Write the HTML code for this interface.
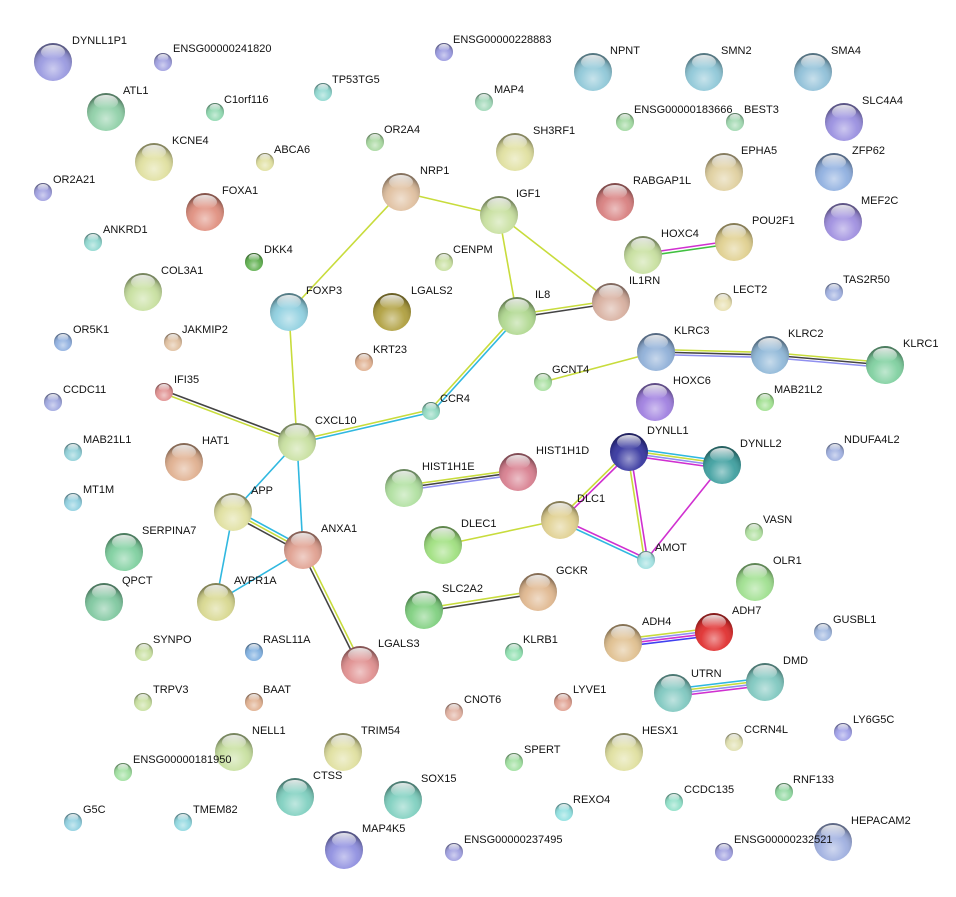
<!DOCTYPE html>
<html><head><meta charset="utf-8"><style>
html,body{margin:0;padding:0;background:#fff;}
svg{display:block;}
text{font-family:"Liberation Sans",Arial,sans-serif;font-size:11px;fill:#111;}
</style></head><body>
<svg width="956" height="897" viewBox="0 0 956 897" xmlns="http://www.w3.org/2000/svg">
<defs>
<radialGradient id="sh" cx="50%" cy="68%" r="62%">
<stop offset="0" stop-color="#fff" stop-opacity="0.5"/>
<stop offset="0.55" stop-color="#fff" stop-opacity="0.05"/>
<stop offset="0.85" stop-color="#000" stop-opacity="0.15"/>
<stop offset="1" stop-color="#000" stop-opacity="0.4"/>
</radialGradient>
<linearGradient id="hl" x1="0" y1="0" x2="0" y2="1">
<stop offset="0" stop-color="#fff" stop-opacity="0.85"/>
<stop offset="1" stop-color="#fff" stop-opacity="0"/>
</linearGradient>
<g id="B"><circle r="19" fill="url(#sh)"/><ellipse cx="0" cy="-10" rx="12" ry="7" fill="url(#hl)"/></g>
<g id="S"><circle r="9" fill="url(#sh)"/><ellipse cx="0" cy="-4.5" rx="5.5" ry="3.5" fill="url(#hl)"/></g>
</defs>
<g stroke-width="1.6" fill="none">
<line x1="401" y1="192" x2="499" y2="215" stroke="#c8dc3c"/>
<line x1="401" y1="192" x2="289" y2="312" stroke="#c8dc3c"/>
<line x1="499" y1="215" x2="517" y2="316" stroke="#c8dc3c"/>
<line x1="499" y1="215" x2="611" y2="302" stroke="#c8dc3c"/>
<line x1="517" y1="314.5" x2="611" y2="300.5" stroke="#c8dc3c"/>
<line x1="517" y1="317.5" x2="611" y2="303.5" stroke="#444"/>
<line x1="515.9" y1="315" x2="429.9" y2="410" stroke="#c8dc3c"/>
<line x1="518.1" y1="317" x2="432.1" y2="412" stroke="#30b8e0"/>
<line x1="431.3" y1="409.5" x2="297.3" y2="440.5" stroke="#c8dc3c"/>
<line x1="430.7" y1="412.5" x2="296.7" y2="443.5" stroke="#30b8e0"/>
<line x1="289" y1="312" x2="297" y2="442" stroke="#c8dc3c"/>
<line x1="164.5" y1="390.6" x2="297.5" y2="440.6" stroke="#444"/>
<line x1="163.5" y1="393.4" x2="296.5" y2="443.4" stroke="#c8dc3c"/>
<line x1="297" y1="442" x2="233" y2="512" stroke="#30b8e0"/>
<line x1="297" y1="442" x2="303" y2="550" stroke="#30b8e0"/>
<line x1="234.4" y1="509.4" x2="304.4" y2="547.4" stroke="#30b8e0"/>
<line x1="233" y1="512" x2="303" y2="550" stroke="#c8dc3c"/>
<line x1="231.6" y1="514.6" x2="301.6" y2="552.6" stroke="#444"/>
<line x1="233" y1="512" x2="216" y2="602" stroke="#30b8e0"/>
<line x1="216" y1="602" x2="303" y2="550" stroke="#30b8e0"/>
<line x1="301.6" y1="550.7" x2="358.6" y2="665.7" stroke="#444"/>
<line x1="304.4" y1="549.3" x2="361.4" y2="664.3" stroke="#c8dc3c"/>
<line x1="643" y1="253.5" x2="734" y2="240.5" stroke="#d030d0"/>
<line x1="643" y1="256.5" x2="734" y2="243.5" stroke="#40c040"/>
<line x1="543" y1="382" x2="656" y2="352" stroke="#c8dc3c"/>
<line x1="656" y1="349.5" x2="770" y2="352.5" stroke="#c8dc3c"/>
<line x1="656" y1="352" x2="770" y2="355" stroke="#444"/>
<line x1="656" y1="354.5" x2="770" y2="357.5" stroke="#9090f0"/>
<line x1="770" y1="352.5" x2="885" y2="362.5" stroke="#c8dc3c"/>
<line x1="770" y1="355" x2="885" y2="365" stroke="#444"/>
<line x1="770" y1="357.5" x2="885" y2="367.5" stroke="#9090f0"/>
<line x1="404" y1="485.5" x2="518" y2="469.5" stroke="#c8dc3c"/>
<line x1="404" y1="488" x2="518" y2="472" stroke="#444"/>
<line x1="404" y1="490.5" x2="518" y2="474.5" stroke="#9090f0"/>
<line x1="443" y1="545" x2="560" y2="520" stroke="#c8dc3c"/>
<line x1="558.9" y1="519" x2="627.9" y2="451" stroke="#c8dc3c"/>
<line x1="561.1" y1="521" x2="630.1" y2="453" stroke="#d030d0"/>
<line x1="560.6" y1="518.6" x2="646.6" y2="558.6" stroke="#d030d0"/>
<line x1="559.4" y1="521.4" x2="645.4" y2="561.4" stroke="#30b8e0"/>
<line x1="629" y1="448" x2="722" y2="461" stroke="#30b8e0"/>
<line x1="629" y1="450.5" x2="722" y2="463.5" stroke="#c8dc3c"/>
<line x1="629" y1="453" x2="722" y2="466" stroke="#9090f0"/>
<line x1="629" y1="455.5" x2="722" y2="468.5" stroke="#d030d0"/>
<line x1="627.5" y1="452.2" x2="644.5" y2="560.2" stroke="#c8dc3c"/>
<line x1="630.5" y1="451.8" x2="647.5" y2="559.8" stroke="#d030d0"/>
<line x1="722" y1="465" x2="646" y2="560" stroke="#d030d0"/>
<line x1="424" y1="608.5" x2="538" y2="590.5" stroke="#c8dc3c"/>
<line x1="424" y1="611.5" x2="538" y2="593.5" stroke="#444"/>
<line x1="623" y1="639" x2="714" y2="628" stroke="#c8dc3c"/>
<line x1="623" y1="641.5" x2="714" y2="630.5" stroke="#9090f0"/>
<line x1="623" y1="644" x2="714" y2="633" stroke="#d030d0"/>
<line x1="623" y1="646.5" x2="714" y2="635.5" stroke="#4040f0"/>
<line x1="673" y1="689" x2="765" y2="678" stroke="#30b8e0"/>
<line x1="673" y1="691.5" x2="765" y2="680.5" stroke="#c8dc3c"/>
<line x1="673" y1="694" x2="765" y2="683" stroke="#9090f0"/>
<line x1="673" y1="696.5" x2="765" y2="685.5" stroke="#d030d0"/>
</g>
<g>
<circle cx="53" cy="62" r="19" fill="#9a9ae0"/><use href="#B" x="53" y="62"/><text x="72" y="44">DYNLL1P1</text>
<circle cx="163" cy="62" r="9" fill="#a0a0e0"/><use href="#S" x="163" y="62"/><text x="173" y="52">ENSG00000241820</text>
<circle cx="106" cy="112" r="19" fill="#90d0a8"/><use href="#B" x="106" y="112"/><text x="123" y="94">ATL1</text>
<circle cx="215" cy="112" r="9" fill="#90d8b0"/><use href="#S" x="215" y="112"/><text x="224" y="103">C1orf116</text>
<circle cx="323" cy="92" r="9" fill="#90d8d0"/><use href="#S" x="323" y="92"/><text x="332" y="83">TP53TG5</text>
<circle cx="444" cy="52" r="9" fill="#9a9ae0"/><use href="#S" x="444" y="52"/><text x="453" y="43">ENSG00000228883</text>
<circle cx="484" cy="102" r="9" fill="#a0d8b8"/><use href="#S" x="484" y="102"/><text x="494" y="93">MAP4</text>
<circle cx="593" cy="72" r="19" fill="#90c8d8"/><use href="#B" x="593" y="72"/><text x="610" y="54">NPNT</text>
<circle cx="704" cy="72" r="19" fill="#90c8d8"/><use href="#B" x="704" y="72"/><text x="721" y="54">SMN2</text>
<circle cx="813" cy="72" r="19" fill="#90c0d8"/><use href="#B" x="813" y="72"/><text x="831" y="54">SMA4</text>
<circle cx="625" cy="122" r="9" fill="#a0d8a0"/><use href="#S" x="625" y="122"/><text x="634" y="113">ENSG00000183666</text>
<circle cx="735" cy="122" r="9" fill="#a0d8b0"/><use href="#S" x="735" y="122"/><text x="744" y="113">BEST3</text>
<circle cx="844" cy="122" r="19" fill="#9a90e0"/><use href="#B" x="844" y="122"/><text x="862" y="104">SLC4A4</text>
<circle cx="154" cy="162" r="19" fill="#e0e0a0"/><use href="#B" x="154" y="162"/><text x="172" y="144">KCNE4</text>
<circle cx="265" cy="162" r="9" fill="#e0e0a0"/><use href="#S" x="265" y="162"/><text x="274" y="153">ABCA6</text>
<circle cx="375" cy="142" r="9" fill="#a8d8a0"/><use href="#S" x="375" y="142"/><text x="384" y="133">OR2A4</text>
<circle cx="515" cy="152" r="19" fill="#e0e0a0"/><use href="#B" x="515" y="152"/><text x="533" y="134">SH3RF1</text>
<circle cx="724" cy="172" r="19" fill="#e0d0a0"/><use href="#B" x="724" y="172"/><text x="741" y="154">EPHA5</text>
<circle cx="834" cy="172" r="19" fill="#90b0e0"/><use href="#B" x="834" y="172"/><text x="852" y="154">ZFP62</text>
<circle cx="43" cy="192" r="9" fill="#a0a0e0"/><use href="#S" x="43" y="192"/><text x="53" y="183">OR2A21</text>
<circle cx="205" cy="212" r="19" fill="#e09080"/><use href="#B" x="205" y="212"/><text x="222" y="194">FOXA1</text>
<circle cx="401" cy="192" r="19" fill="#e0c0a0"/><use href="#B" x="401" y="192"/><text x="420" y="174">NRP1</text>
<circle cx="499" cy="215" r="19" fill="#c8e0a0"/><use href="#B" x="499" y="215"/><text x="516" y="197">IGF1</text>
<circle cx="615" cy="202" r="19" fill="#d88080"/><use href="#B" x="615" y="202"/><text x="633" y="184">RABGAP1L</text>
<circle cx="843" cy="222" r="19" fill="#a090e0"/><use href="#B" x="843" y="222"/><text x="861" y="204">MEF2C</text>
<circle cx="93" cy="242" r="9" fill="#90d8d0"/><use href="#S" x="93" y="242"/><text x="103" y="233">ANKRD1</text>
<circle cx="254" cy="262" r="9" fill="#60b050"/><use href="#S" x="254" y="262"/><text x="264" y="253">DKK4</text>
<circle cx="444" cy="262" r="9" fill="#c8e0a0"/><use href="#S" x="444" y="262"/><text x="453" y="253">CENPM</text>
<circle cx="643" cy="255" r="19" fill="#c8e0a0"/><use href="#B" x="643" y="255"/><text x="661" y="237">HOXC4</text>
<circle cx="734" cy="242" r="19" fill="#e0d090"/><use href="#B" x="734" y="242"/><text x="752" y="224">POU2F1</text>
<circle cx="143" cy="292" r="19" fill="#c8e0a0"/><use href="#B" x="143" y="292"/><text x="161" y="274">COL3A1</text>
<circle cx="289" cy="312" r="19" fill="#90d0e0"/><use href="#B" x="289" y="312"/><text x="306" y="294">FOXP3</text>
<circle cx="392" cy="312" r="19" fill="#b0a040"/><use href="#B" x="392" y="312"/><text x="411" y="294">LGALS2</text>
<circle cx="517" cy="316" r="19" fill="#b0d890"/><use href="#B" x="517" y="316"/><text x="535" y="298">IL8</text>
<circle cx="611" cy="302" r="19" fill="#d8b0a0"/><use href="#B" x="611" y="302"/><text x="629" y="284">IL1RN</text>
<circle cx="723" cy="302" r="9" fill="#e8e0b0"/><use href="#S" x="723" y="302"/><text x="733" y="293">LECT2</text>
<circle cx="834" cy="292" r="9" fill="#a0b0e0"/><use href="#S" x="834" y="292"/><text x="843" y="283">TAS2R50</text>
<circle cx="63" cy="342" r="9" fill="#90b0e0"/><use href="#S" x="63" y="342"/><text x="73" y="333">OR5K1</text>
<circle cx="173" cy="342" r="9" fill="#e0c0a0"/><use href="#S" x="173" y="342"/><text x="182" y="333">JAKMIP2</text>
<circle cx="364" cy="362" r="9" fill="#e0b090"/><use href="#S" x="364" y="362"/><text x="373" y="353">KRT23</text>
<circle cx="656" cy="352" r="19" fill="#90b0d8"/><use href="#B" x="656" y="352"/><text x="674" y="334">KLRC3</text>
<circle cx="770" cy="355" r="19" fill="#90b8d8"/><use href="#B" x="770" y="355"/><text x="788" y="337">KLRC2</text>
<circle cx="885" cy="365" r="19" fill="#80d0a0"/><use href="#B" x="885" y="365"/><text x="903" y="347">KLRC1</text>
<circle cx="53" cy="402" r="9" fill="#a0a8e0"/><use href="#S" x="53" y="402"/><text x="63" y="393">CCDC11</text>
<circle cx="164" cy="392" r="9" fill="#e09090"/><use href="#S" x="164" y="392"/><text x="174" y="383">IFI35</text>
<circle cx="543" cy="382" r="9" fill="#a8e0a0"/><use href="#S" x="543" y="382"/><text x="552" y="373">GCNT4</text>
<circle cx="655" cy="402" r="19" fill="#a080e0"/><use href="#B" x="655" y="402"/><text x="673" y="384">HOXC6</text>
<circle cx="765" cy="402" r="9" fill="#a0e090"/><use href="#S" x="765" y="402"/><text x="774" y="393">MAB21L2</text>
<circle cx="431" cy="411" r="9" fill="#90d8c0"/><use href="#S" x="431" y="411"/><text x="440" y="402">CCR4</text>
<circle cx="297" cy="442" r="19" fill="#c8e0a0"/><use href="#B" x="297" y="442"/><text x="315" y="424">CXCL10</text>
<circle cx="73" cy="452" r="9" fill="#90d0d8"/><use href="#S" x="73" y="452"/><text x="83" y="443">MAB21L1</text>
<circle cx="184" cy="462" r="19" fill="#e0b090"/><use href="#B" x="184" y="462"/><text x="202" y="444">HAT1</text>
<circle cx="629" cy="452" r="19" fill="#3838a0"/><use href="#B" x="629" y="452"/><text x="647" y="434">DYNLL1</text>
<circle cx="722" cy="465" r="19" fill="#40a0a0"/><use href="#B" x="722" y="465"/><text x="740" y="447">DYNLL2</text>
<circle cx="835" cy="452" r="9" fill="#a0b0e0"/><use href="#S" x="835" y="452"/><text x="844" y="443">NDUFA4L2</text>
<circle cx="404" cy="488" r="19" fill="#b0e0a0"/><use href="#B" x="404" y="488"/><text x="422" y="470">HIST1H1E</text>
<circle cx="518" cy="472" r="19" fill="#d88090"/><use href="#B" x="518" y="472"/><text x="536" y="454">HIST1H1D</text>
<circle cx="73" cy="502" r="9" fill="#90d0e0"/><use href="#S" x="73" y="502"/><text x="83" y="493">MT1M</text>
<circle cx="233" cy="512" r="19" fill="#e0e0a0"/><use href="#B" x="233" y="512"/><text x="251" y="494">APP</text>
<circle cx="560" cy="520" r="19" fill="#e0d090"/><use href="#B" x="560" y="520"/><text x="577" y="502">DLC1</text>
<circle cx="754" cy="532" r="9" fill="#b0e0a0"/><use href="#S" x="754" y="532"/><text x="763" y="523">VASN</text>
<circle cx="124" cy="552" r="19" fill="#80d0a0"/><use href="#B" x="124" y="552"/><text x="142" y="534">SERPINA7</text>
<circle cx="443" cy="545" r="19" fill="#a0e080"/><use href="#B" x="443" y="545"/><text x="461" y="527">DLEC1</text>
<circle cx="303" cy="550" r="19" fill="#e0a090"/><use href="#B" x="303" y="550"/><text x="321" y="532">ANXA1</text>
<circle cx="646" cy="560" r="9" fill="#a0e0e0"/><use href="#S" x="646" y="560"/><text x="655" y="551">AMOT</text>
<circle cx="755" cy="582" r="19" fill="#a0e090"/><use href="#B" x="755" y="582"/><text x="773" y="564">OLR1</text>
<circle cx="104" cy="602" r="19" fill="#80c8a0"/><use href="#B" x="104" y="602"/><text x="122" y="584">QPCT</text>
<circle cx="216" cy="602" r="19" fill="#d8d890"/><use href="#B" x="216" y="602"/><text x="234" y="584">AVPR1A</text>
<circle cx="424" cy="610" r="19" fill="#80d080"/><use href="#B" x="424" y="610"/><text x="442" y="592">SLC2A2</text>
<circle cx="538" cy="592" r="19" fill="#e0b890"/><use href="#B" x="538" y="592"/><text x="556" y="574">GCKR</text>
<circle cx="714" cy="632" r="19" fill="#e03030"/><use href="#B" x="714" y="632"/><text x="732" y="614">ADH7</text>
<circle cx="623" cy="643" r="19" fill="#e0c090"/><use href="#B" x="623" y="643"/><text x="642" y="625">ADH4</text>
<circle cx="823" cy="632" r="9" fill="#a0b8e0"/><use href="#S" x="823" y="632"/><text x="833" y="623">GUSBL1</text>
<circle cx="144" cy="652" r="9" fill="#c8e0a0"/><use href="#S" x="144" y="652"/><text x="153" y="643">SYNPO</text>
<circle cx="254" cy="652" r="9" fill="#80b0e0"/><use href="#S" x="254" y="652"/><text x="263" y="643">RASL11A</text>
<circle cx="360" cy="665" r="19" fill="#e09090"/><use href="#B" x="360" y="665"/><text x="378" y="647">LGALS3</text>
<circle cx="514" cy="652" r="9" fill="#90e0b0"/><use href="#S" x="514" y="652"/><text x="523" y="643">KLRB1</text>
<circle cx="765" cy="682" r="19" fill="#80c8c0"/><use href="#B" x="765" y="682"/><text x="783" y="664">DMD</text>
<circle cx="673" cy="693" r="19" fill="#80c8c0"/><use href="#B" x="673" y="693"/><text x="691" y="677">UTRN</text>
<circle cx="143" cy="702" r="9" fill="#c8e0a0"/><use href="#S" x="143" y="702"/><text x="153" y="693">TRPV3</text>
<circle cx="254" cy="702" r="9" fill="#e0b090"/><use href="#S" x="254" y="702"/><text x="263" y="693">BAAT</text>
<circle cx="454" cy="712" r="9" fill="#e0b0a0"/><use href="#S" x="454" y="712"/><text x="464" y="703">CNOT6</text>
<circle cx="563" cy="702" r="9" fill="#e0a090"/><use href="#S" x="563" y="702"/><text x="573" y="693">LYVE1</text>
<circle cx="843" cy="732" r="9" fill="#a0a0e8"/><use href="#S" x="843" y="732"/><text x="853" y="723">LY6G5C</text>
<circle cx="234" cy="752" r="19" fill="#c8e0a0"/><use href="#B" x="234" y="752"/><text x="252" y="734">NELL1</text>
<circle cx="343" cy="752" r="19" fill="#e0e0a0"/><use href="#B" x="343" y="752"/><text x="361" y="734">TRIM54</text>
<circle cx="514" cy="762" r="9" fill="#a0e0a0"/><use href="#S" x="514" y="762"/><text x="524" y="753">SPERT</text>
<circle cx="624" cy="752" r="19" fill="#e0e0a0"/><use href="#B" x="624" y="752"/><text x="642" y="734">HESX1</text>
<circle cx="734" cy="742" r="9" fill="#e0e0b0"/><use href="#S" x="734" y="742"/><text x="744" y="733">CCRN4L</text>
<circle cx="123" cy="772" r="9" fill="#a0e0a0"/><use href="#S" x="123" y="772"/><text x="133" y="763">ENSG00000181950</text>
<circle cx="295" cy="797" r="19" fill="#80d0c0"/><use href="#B" x="295" y="797"/><text x="313" y="779">CTSS</text>
<circle cx="403" cy="800" r="19" fill="#80d0c0"/><use href="#B" x="403" y="800"/><text x="421" y="782">SOX15</text>
<circle cx="564" cy="812" r="9" fill="#90e0e0"/><use href="#S" x="564" y="812"/><text x="573" y="803">REXO4</text>
<circle cx="674" cy="802" r="9" fill="#90e0c8"/><use href="#S" x="674" y="802"/><text x="684" y="793">CCDC135</text>
<circle cx="784" cy="792" r="9" fill="#90d8a0"/><use href="#S" x="784" y="792"/><text x="793" y="783">RNF133</text>
<circle cx="73" cy="822" r="9" fill="#90d0e0"/><use href="#S" x="73" y="822"/><text x="83" y="813">G5C</text>
<circle cx="183" cy="822" r="9" fill="#90d8e0"/><use href="#S" x="183" y="822"/><text x="193" y="813">TMEM82</text>
<circle cx="344" cy="850" r="19" fill="#9090e0"/><use href="#B" x="344" y="850"/><text x="362" y="832">MAP4K5</text>
<circle cx="454" cy="852" r="9" fill="#a0a0e0"/><use href="#S" x="454" y="852"/><text x="464" y="843">ENSG00000237495</text>
<circle cx="724" cy="852" r="9" fill="#a0a0e0"/><use href="#S" x="724" y="852"/>
<circle cx="833" cy="842" r="19" fill="#a0b0e0"/><use href="#B" x="833" y="842"/><text x="851" y="824">HEPACAM2</text>
<text x="734" y="843">ENSG00000232521</text>
</g>
</svg>
</body></html>
